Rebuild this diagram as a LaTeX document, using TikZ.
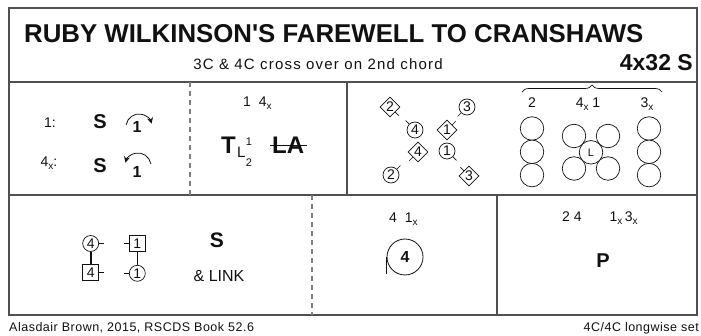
\documentclass[tikz,border=0pt]{standalone}
\usepackage{fontspec}
\setmainfont{Liberation Sans}
\newfontfamily\spacedfont[LetterSpace=8]{Liberation Sans}
\newfontfamily\footfont[LetterSpace=4]{Liberation Sans}
\usepackage{tikz}
\usetikzlibrary{arrows.meta,positioning,shapes.geometric,decorations.pathreplacing}
\definecolor{ink}{HTML}{111111}
\definecolor{rule}{HTML}{505050}
\definecolor{ruledash}{HTML}{808080}
\newcommand{\fsz}[1]{\fontsize{#1}{#1}\selectfont}
\newcommand{\xsub}{\raisebox{-0.3ex}{\fsz{10}x}}
\tikzset{
  panelrule/.style={draw=rule,line width=1.4pt},
  paneldash/.style={draw=ruledash,line width=1.2pt,dash pattern=on 5pt off 4pt},
  plain/.style={text=ink,inner sep=0pt,font=\fsz{14}},
  bigbold/.style={text=ink,inner sep=0pt,font=\fsz{20}\bfseries},
  mancirc/.style={circle,draw=ink,line width=0.7pt,minimum size=16pt,inner sep=0pt,
    font=\fsz{14},text=ink},
  ladydiam/.style={diamond,draw=ink,line width=0.7pt,minimum size=20pt,inner sep=0pt,
    font=\fsz{14},text=ink},
  ladysq/.style={rectangle,draw=ink,line width=0.7pt,minimum size=16pt,inner sep=0pt,
    font=\fsz{14},text=ink},
  setcirc/.style={circle,draw=ink,line width=0.7pt,minimum size=23.5pt,inner sep=0pt,
    fill=white,font=\fsz{11},text=ink},
  facing/.style={draw=ink,line width=0.7pt},
  partner/.style={draw=ink,line width=1.6pt},
  turnarr/.style={draw=ink,line width=0.8pt,-{Stealth[length=6pt,width=6pt]}},
  strikeout/.style={draw=ink,line width=1.4pt},
}
\begin{document}
\begin{tikzpicture}[x=1pt,y=-1pt]
  \useasboundingbox (0,0) rectangle (701,336);
  \draw[panelrule] (9,8) rectangle (697,315);
  \draw[panelrule] (9,82) -- (697,82);
  \draw[panelrule] (9,195) -- (697,195);
  \draw[paneldash] (190,82) -- (190,195);
  \draw[panelrule] (347,82) -- (347,195);
  \draw[paneldash] (312,195) -- (312,315);
  \draw[panelrule] (497,195) -- (497,315);

  \node[anchor=base west,inner sep=0pt,text=ink,font=\fsz{25.8}\bfseries] (title) at (24,43)
    {RUBY WILKINSON\textquotesingle S FAREWELL TO CRANSHAWS};
  \node[anchor=base,inner sep=0pt,text=ink,font=\spacedfont\fsz{15}] (sub) at (318,70)
    {3C \& 4C cross over on 2nd chord};
  \node[anchor=base east,inner sep=0pt,text=ink,font=\fsz{23}\bfseries] (form) at (693,71) {4x32 S};

  \node[plain,anchor=base] (r1) at (50,128) {1:};
  \node[plain,anchor=base] (r4) at (49,167) {4\xsub:};
  \node[bigbold,anchor=base] (set1) at (100,129) {S};
  \node[bigbold,anchor=base] (set4) at (100,173) {S};
  \node[text=ink,inner sep=0pt,font=\fsz{16}\bfseries,anchor=base] (one1) at (137,133) {1};
  \node[text=ink,inner sep=0pt,font=\fsz{16}\bfseries,anchor=base] (one4) at (137,178) {1};
  \coordinate (turn1) at (139,127);
  \coordinate (turn4) at (138,166);
  \draw[turnarr] ([shift={(-170:13)}]turn1) arc[start angle=-170,end angle=-15,radius=13];
  \draw[turnarr] ([shift={(-10:13)}]turn4) arc[start angle=-10,end angle=-165,radius=13];

  \node[plain,anchor=base west] (who2) at (243,107) {1\ \ 4\xsub};
  \node[text=ink,inner sep=0pt,font=\fsz{24}\bfseries,anchor=base west] (turnT) at (221,154) {T};
  \node[text=ink,inner sep=0pt,font=\fsz{15},anchor=base west] (turnL) at (237,158) {L};
  \node[text=ink,inner sep=0pt,font=\fsz{11},anchor=base] (half1) at (249,146) {1};
  \node[text=ink,inner sep=0pt,font=\fsz{11},anchor=base] (half2) at (249,167) {2};
  \node[text=ink,inner sep=0pt,font=\fsz{24}\bfseries,anchor=base west] (lead) at (272,154) {LA};
  \draw[strikeout] ([xshift=-2pt]lead.west) -- ([xshift=3pt]lead.east);

  \node[ladydiam] (d2) at (390,107) {2};
  \node[mancirc] (c3) at (467,107) {3};
  \node[mancirc] (c4) at (415,130) {4};
  \node[ladydiam] (d1) at (447,130) {1};
  \node[ladydiam] (d4) at (418,152) {4};
  \node[mancirc] (c1) at (447,151) {1};
  \node[mancirc] (c2) at (391,175) {2};
  \node[ladydiam] (d3) at (469,176) {3};
  \draw[facing] (d2.south east) -- ++(3.5,3.5);
  \draw[facing] (c4.north west) -- ++(-3.5,-3.5);
  \draw[facing] (c3.south west) -- ++(-3.5,3.5);
  \draw[facing] (d1.north east) -- ++(3.5,-3.5);
  \draw[facing] (d4.south west) -- ++(-3.5,3.5);
  \draw[facing] (c2.north east) -- ++(3.5,-3.5);
  \draw[facing] (c1.south east) -- ++(3.5,3.5);
  \draw[facing] (d3.north west) -- ++(-3.5,-3.5);

  \coordinate (braceL) at (522,92);
  \coordinate (braceR) at (662,92);
  \draw[ink,line width=0.7pt,decorate,decoration={brace,amplitude=7pt}] (braceL) -- (braceR);
  \node[plain,anchor=base] (col2) at (532,108) {2};
  \node[plain,anchor=base] (col41) at (588,108) {4\xsub\ 1};
  \node[plain,anchor=base] (col3) at (647,108) {3\xsub};
  \foreach \y [count=\i] in {128.5,151.8,175.1} {
    \node[setcirc] (lc\i) at (532,\y) {};
    \node[setcirc] (rc\i) at (649,\y) {};
  }
  \node[setcirc] (m1) at (574,136) {};
  \node[setcirc] (m2) at (608,136) {};
  \node[setcirc] (m3) at (574,168.5) {};
  \node[setcirc] (m4) at (608,168.5) {};
  \node[setcirc] (mid) at (591,152.3) {L};

  \node[mancirc] (bc4) at (90.7,243.5) {4};
  \node[ladysq] (bs1) at (137.3,243.5) {1};
  \node[ladysq] (bs4) at (90.7,272.5) {4};
  \node[mancirc] (bc1) at (137.3,273.3) {1};
  \draw[partner] (bc4) -- (bs4);
  \draw[partner] (bs1) -- (bc1);
  \draw[facing] (bc4.east) -- ++(5,0);
  \draw[facing] (bs4.east) -- ++(5,0);
  \draw[facing] (bs1.west) -- ++(-5,0);
  \draw[facing] (bc1.west) -- ++(-5,0);
  \node[bigbold,font=\fsz{21}\bfseries,anchor=base] (set9) at (217,248) {S};
  \node[plain,font=\fsz{16},anchor=base] (link) at (219,282) {\& LINK};

  \node[plain,anchor=base west] (who3) at (389,223) {4\ \ 1\xsub};
  \node[circle,draw=ink,line width=0.8pt,minimum size=36pt,inner sep=0pt,
    font=\fsz{16}\bfseries,text=ink] (cast) at (405,257) {4};
  \draw[facing,line width=0.8pt] (cast.west) -- ++(0,17);

  \node[plain,anchor=base west] (who4) at (562,222) {2 4\hspace{28pt}1\xsub\,3\xsub};
  \node[bigbold,anchor=base] (promenade) at (603,268) {P};

  \node[anchor=base west,inner sep=0pt,text=ink,font=\footfont\fsz{12.5}] (credit) at (9,332)
    {Alasdair Brown, 2015, RSCDS Book 52.6};
  \node[anchor=base east,inner sep=0pt,text=ink,font=\footfont\fsz{12.5}] (setinfo) at (699,332)
    {4C/4C longwise set};
\end{tikzpicture}
\end{document}
